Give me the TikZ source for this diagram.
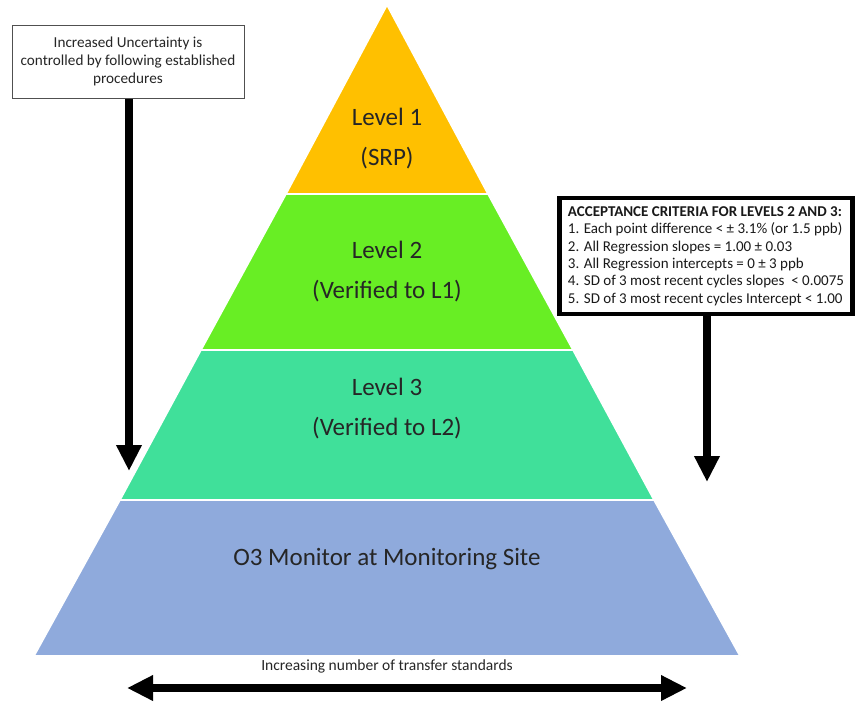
\documentclass[tikz,border=0pt]{standalone}
\usepackage{fontspec}
\setmainfont{Carlito}
\usetikzlibrary{arrows.meta}
\definecolor{lvlone}{RGB}{255,192,0}
\definecolor{lvltwo}{RGB}{104,238,36}
\definecolor{lvlthree}{RGB}{64,224,154}
\definecolor{lvlfour}{RGB}{143,170,220}
\definecolor{boxline}{RGB}{80,80,80}
\tikzset{
  tier/.style={draw=white, line width=1.6pt, line join=miter},
  tiertext/.style={font=\fontsize{25}{40}\selectfont, align=center, text=black!85},
  bigarrow/.style={line width=8pt, -{Triangle[width=24pt,length=26pt]}},
  twoarrow/.style={line width=8pt, {Triangle[width=24pt,length=26pt]}-{Triangle[width=24pt,length=26pt]}},
}
\begin{document}
\begin{tikzpicture}[x=1pt,y=-1pt]
\useasboundingbox (0,0) rectangle (856,702);
% pyramid tiers
\fill[white] (0,0) rectangle (856,702);
\filldraw[tier, fill=lvlone]   (387,5) -- (488,194) -- (286,194) -- cycle;
\filldraw[tier, fill=lvltwo]   (286,194) -- (488,194) -- (573,350) -- (201,350) -- cycle;
\filldraw[tier, fill=lvlthree] (201,350) -- (573,350) -- (654,500) -- (120,500) -- cycle;
\filldraw[tier, fill=lvlfour]  (120,500) -- (654,500) -- (740,656) -- (34,656) -- cycle;
% tier labels
\node[tiertext] (t1) at (387,139) {Level 1\\(SRP)};
\node[tiertext] (t2) at (387,272) {Level 2\\(Verified to L1)};
\node[tiertext] (t3) at (387,409) {Level 3\\(Verified to L2)};
\node[tiertext] (t4) at (387,559) {O3 Monitor at Monitoring Site};
% left note and arrow
\node[draw=boxline, line width=1pt, fill=white, minimum width=232pt, minimum height=73pt,
      align=center, font=\fontsize{15.2}{17.8}\selectfont, text=black!85] (lbox) at (128,61.5)
  {Increased Uncertainty is\\controlled by following established\\procedures};
\coordinate (lend) at (129,471);
\draw[bigarrow] (lbox.south -| lend) -- (lend);
% acceptance criteria box and arrow
\node[draw=black, line width=4.5pt, fill=white, minimum width=293pt, minimum height=116pt,
      align=left, font=\fontsize{15}{17.4}\selectfont, text=black!90, inner sep=5pt] (rbox) at (706,256)
  {\textbf{ACCEPTANCE CRITERIA FOR LEVELS 2 AND 3:}\\
   1. Each point difference < ± 3.1\% (or 1.5 ppb)\\
   2. All Regression slopes = 1.00 ± 0.03\\
   3. All Regression intercepts = 0 ± 3 ppb\\
   4. SD of 3 most recent cycles slopes~~< 0.0075\\
   5. SD of 3 most recent cycles Intercept < 1.00};
\coordinate (rend) at (707,482);
\draw[bigarrow] (rbox.south -| rend) -- (rend);
% bottom axis
\node[font=\fontsize{15.5}{18}\selectfont, text=black!85] (axislabel) at (387,666) {Increasing number of transfer standards};
\coordinate (aleft) at (127,688);
\coordinate (aright) at (687,688);
\draw[twoarrow] (aleft) -- (aright);
\end{tikzpicture}
\end{document}
